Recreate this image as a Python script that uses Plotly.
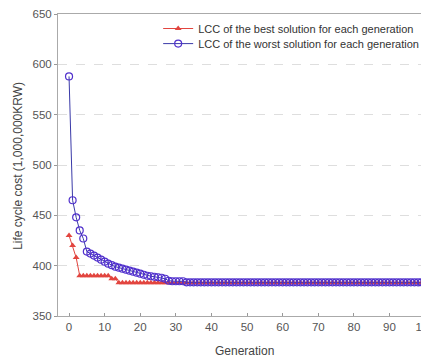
import plotly.graph_objects as go

generations = list(range(0, 101))

lcc_best = [
    430, 420, 408, 390, 390, 390, 390, 390, 390, 390,
    390, 390, 387, 387, 383, 383, 383, 383, 383, 383,
    383, 383, 383, 383, 383, 383, 383, 383, 383, 383,
    383, 383, 383, 383, 383, 383, 383, 383, 383, 383,
    383, 383, 383, 383, 383, 383, 383, 383, 383, 383,
    383, 383, 383, 383, 383, 383, 383, 383, 383, 383,
    383, 383, 383, 383, 383, 383, 383, 383, 383, 383,
    383, 383, 383, 383, 383, 383, 383, 383, 383, 383,
    383, 383, 383, 383, 383, 383, 383, 383, 383, 383,
    383, 383, 383, 383, 383, 383, 383, 383, 383, 383,
    383,
]

lcc_worst = [
    588, 465, 448, 435, 427, 414, 412, 410, 408, 406,
    404, 402, 400.5, 399, 398, 397, 396, 395, 394, 393,
    392, 391, 390, 389.5, 389, 388.5, 388, 387, 385, 384.5,
    384.5, 384.5, 384.5, 383.5, 383.5, 383.5, 383.5, 383.5, 383.5, 383.5,
    383.5, 383.5, 383.5, 383.5, 383.5, 383.5, 383.5, 383.5, 383.5, 383.5,
    383.5, 383.5, 383.5, 383.5, 383.5, 383.5, 383.5, 383.5, 383.5, 383.5,
    383.5, 383.5, 383.5, 383.5, 383.5, 383.5, 383.5, 383.5, 383.5, 383.5,
    383.5, 383.5, 383.5, 383.5, 383.5, 383.5, 383.5, 383.5, 383.5, 383.5,
    383.5, 383.5, 383.5, 383.5, 383.5, 383.5, 383.5, 383.5, 383.5, 383.5,
    383.5, 383.5, 383.5, 383.5, 383.5, 383.5, 383.5, 383.5, 383.5, 383.5,
    383.5,
]

x_ticks = [0, 10, 20, 30, 40, 50, 60, 70, 80, 90, 100]
y_ticks = [350, 400, 450, 500, 550, 600, 650]

FONT = "Liberation Sans, Arial, sans-serif"

fig = go.Figure()
fig.add_trace(go.Scatter(
    x=generations, y=lcc_best, mode="lines+markers",
    name="LCC of the best solution for each generation",
    line=dict(color="#e2453f", width=1),
    marker=dict(symbol="triangle-up", size=6, color="#e2453f"),
    legend="legend", showlegend=True,
))
fig.add_trace(go.Scatter(
    x=generations, y=lcc_worst, mode="lines+markers",
    name="LCC of the worst solution for each generation",
    line=dict(color="#3a3aa8", width=1),
    marker=dict(symbol="circle-open", size=7, color="#5030cc", line=dict(width=1.2)),
    legend="legend2", showlegend=True,
))

legend_common = dict(
    xanchor="left", yanchor="top", visible=True,
    bgcolor="rgba(0,0,0,0)", font=dict(size=11, color="#333"),
    itemwidth=30,
)

fig.update_layout(
    width=421, height=350,
    margin=dict(l=50, r=0, t=6, b=42),
    paper_bgcolor="white", plot_bgcolor="white",
    showlegend=True,
    font=dict(family=FONT, size=11, color="#444"),
    legend=dict(x=0.270, y=1.0, **legend_common),
    legend2=dict(x=0.270, y=0.950, **legend_common),
    xaxis=dict(
        range=[-3.1, 101.1], tickvals=x_ticks,
        ticks="inside", ticklen=3, tickcolor="#999",
        showline=True, linecolor="#aaa", linewidth=1, mirror=True,
        showgrid=False, zeroline=False, automargin=False,
        tickfont=dict(size=11.5, color="#555"),
        ticklabeloverflow="allow",
    ),
    yaxis=dict(
        range=[350, 650], tickvals=y_ticks,
        ticks="outside", ticklen=3, tickcolor="#999",
        showline=True, linecolor="#aaa", linewidth=1,
        showgrid=True, gridcolor="#dedede", griddash="dash", gridwidth=1,
        zeroline=False, automargin=False,
        tickfont=dict(size=11.5, color="#555"),
    ),
    annotations=[
        dict(text="Generation", xref="paper", yref="paper", x=0.504, y=-0.116,
             xanchor="center", yanchor="middle", showarrow=False,
             font=dict(size=12, color="#444")),
        dict(text="Life cycle cost (1,000,000KRW)", xref="paper", yref="paper",
             x=-0.108, y=0.497, xanchor="center", yanchor="middle",
             textangle=-90, showarrow=False, font=dict(size=12, color="#444")),
    ],
)

fig.write_html("out.html")
